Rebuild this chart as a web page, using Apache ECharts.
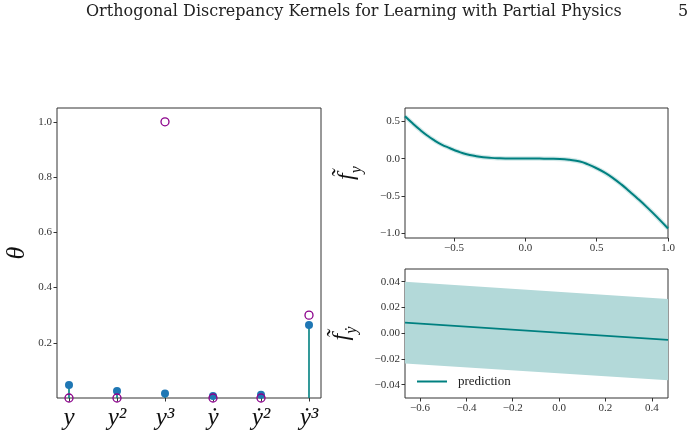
<!DOCTYPE html>
<html>
<head>
<meta charset="utf-8">
<script src="https://cdn.jsdelivr.net/npm/echarts@6/dist/echarts.min.js"></script>
<style>
html, body { margin: 0; padding: 0; background: #fff; }
#chart { width: 692px; height: 437px; }
</style>
</head>
<body>
<div id="chart"></div>
<script>
// left panel: estimated vs true coefficients
const termLabels = ['y', 'y²', 'y³', 'ẏ', 'ẏ²', 'ẏ³']
const thetaEst = [0.047, 0.025, 0.016, 0.007, 0.012, 0.264]
const thetaTrue = [0, 0, 1.0, 0, 0, 0.3]
const thetaTicks = [0.2, 0.4, 0.6, 0.8, 1.0]

// top right: learned f_y
const fyX = [-0.843, -0.79, -0.738, -0.69, -0.645, -0.59, -0.528, -0.47, -0.411, -0.35, -0.295, -0.24, -0.178, -0.1, 0, 0.1, 0.18, 0.243, 0.31, 0.383, 0.44, 0.5, 0.56, 0.617, 0.675, 0.733, 0.79, 0.85, 0.925, 1.0]
const fyMean = [0.57, 0.475, 0.388, 0.315, 0.255, 0.193, 0.14, 0.095, 0.059, 0.035, 0.019, 0.01, 0.005, 0.002, 0.001, 0.0, -0.001, -0.004, -0.016, -0.04, -0.078, -0.13, -0.193, -0.265, -0.35, -0.446, -0.542, -0.649, -0.79, -0.94]
const fyTicksX = [-0.5, 0, 0.5, 1.0]
const fyTicksY = [-1.0, -0.5, 0, 0.5]

// bottom right: learned f_ydot with band
const fdX = [-0.665, 0.47]
const fdMean = [0.0082, -0.0052]
const fdUpper = [0.040, 0.0266]
const fdLower = [-0.0236, -0.0365]
const fdTicksX = [-0.6, -0.4, -0.2, 0, 0.2, 0.4]
const fdTicksY = [-0.04, -0.02, 0, 0.02, 0.04]

const TEAL = '#008080'
const SERIF = "'Liberation Serif', 'DejaVu Serif', serif"

const fmt = (v, d) => (v < -1e-9 ? '\u2212' : '') + Math.abs(v).toFixed(d)
const zip = (xs, ys) => xs.map((x, i) => [x, ys[i]])

// axis helper with fixed tick positions
const makeAxis = (idx, min, max, ticks, formatter, extra) => Object.assign({
  type: 'value',
  gridIndex: idx,
  min: min,
  max: max,
  splitLine: { show: false },
  axisLine: { show: false, onZero: false },
  axisTick: { show: true, customValues: ticks, length: 3.5, lineStyle: { color: '#333' } },
  axisLabel: {
    customValues: ticks,
    formatter: formatter,
    color: '#333',
    fontFamily: SERIF,
    fontSize: 11,
    margin: 5
  }
}, extra || {})

const gridBox = { show: true, borderColor: '#333', borderWidth: 1, containLabel: false, outerBoundsMode: 'none' }

const nameRich = {
  f: { fontFamily: SERIF, fontStyle: 'italic', fontSize: 24, verticalAlign: 'top', height: 25 },
  s: { fontFamily: SERIF, fontStyle: 'italic', fontSize: 16, verticalAlign: 'bottom', height: 20, lineHeight: 33 }
}

const chart = echarts.init(document.getElementById('chart'))

chart.setOption({
  animation: false,
  backgroundColor: '#fff',
  graphic: [
    {
      type: 'text', left: 86, top: 4,
      style: { text: 'Orthogonal Discrepancy Kernels for Learning with Partial Physics', font: "16px 'DejaVu Serif', serif", fill: '#222' }
    },
    {
      type: 'text', left: 678, top: 4,
      style: { text: '5', font: "16px 'DejaVu Serif', serif", fill: '#222' }
    }
  ],
  grid: [
    Object.assign({ left: 57, top: 108, width: 264, height: 290 }, gridBox),
    Object.assign({ left: 405, top: 108, width: 263, height: 130 }, gridBox),
    Object.assign({ left: 405, top: 269, width: 263, height: 129 }, gridBox)
  ],
  xAxis: [
    makeAxis(0, -0.25, 5.25, [0, 1, 2, 3, 4, 5], v => termLabels[Math.round(v)], {
      axisLabel: {
        customValues: [0, 1, 2, 3, 4, 5],
        formatter: v => termLabels[Math.round(v)],
        color: '#111',
        fontFamily: SERIF,
        fontStyle: 'italic',
        fontSize: 25,
        margin: 8
      }
    }),
    makeAxis(1, -0.843, 1.0, fyTicksX, v => fmt(v, 1)),
    makeAxis(2, -0.665, 0.47, fdTicksX, v => fmt(v, 1))
  ],
  yAxis: [
    makeAxis(0, 0, 1.05, thetaTicks, v => fmt(v, 1), {
      name: 'θ',
      nameLocation: 'middle',
      nameRotate: 90,
      nameGap: 27,
      nameTextStyle: { fontFamily: SERIF, fontStyle: 'italic', fontSize: 26, color: '#111' }
    }),
    makeAxis(1, -1.068, 0.681, fyTicksY, v => fmt(v, 1), {
      name: '{f|f\u0303}{s|y}',
      nameLocation: 'middle',
      nameRotate: 90,
      nameGap: 38,
      nameTextStyle: { color: '#111', rich: nameRich }
    }),
    makeAxis(2, -0.0503, 0.0498, fdTicksY, v => fmt(v, 2), {
      name: '{f|f\u0303}{s|ẏ}',
      nameLocation: 'middle',
      nameRotate: 90,
      nameGap: 43,
      nameTextStyle: { color: '#111', rich: nameRich }
    })
  ],
  legend: {
    left: 412,
    top: 370,
    data: [{ name: 'prediction', icon: 'rect' }],
    itemWidth: 30,
    itemHeight: 2,
    textStyle: { fontFamily: SERIF, fontSize: 13, color: '#222', padding: [0, 0, 0, 6] }
  },
  series: [
    // stems from zero up to the estimate
    {
      type: 'custom',
      xAxisIndex: 0,
      yAxisIndex: 0,
      z: 2,
      data: thetaEst.map((v, i) => [i, v]),
      renderItem: (params, api) => {
        const p0 = api.coord([api.value(0), 0])
        const p1 = api.coord([api.value(0), api.value(1)])
        return {
          type: 'line',
          shape: { x1: p0[0], y1: p0[1], x2: p1[0], y2: p1[1] },
          style: { stroke: TEAL, lineWidth: 1.6 }
        }
      }
    },
    {
      type: 'scatter',
      xAxisIndex: 0,
      yAxisIndex: 0,
      z: 3,
      symbolSize: 8,
      itemStyle: { color: '#1f77b4', opacity: 1 },
      data: thetaEst.map((v, i) => [i, v])
    },
    {
      type: 'scatter',
      xAxisIndex: 0,
      yAxisIndex: 0,
      z: 4,
      symbolSize: 8,
      itemStyle: { color: 'rgba(255,255,255,0)', borderColor: '#8b008b', borderWidth: 1.3, opacity: 1 },
      data: thetaTrue.map((v, i) => [i, v])
    },
    // top right curve with faint uncertainty halo
    {
      type: 'line',
      xAxisIndex: 1,
      yAxisIndex: 1,
      smooth: true,
      symbol: 'none',
      lineStyle: { color: 'rgba(0,128,128,0.18)', width: 4.5 },
      data: zip(fyX, fyMean)
    },
    {
      type: 'line',
      xAxisIndex: 1,
      yAxisIndex: 1,
      smooth: true,
      symbol: 'none',
      lineStyle: { color: TEAL, width: 2 },
      data: zip(fyX, fyMean)
    },
    // bottom right band, polygon built through the axis scales
    {
      type: 'custom',
      xAxisIndex: 2,
      yAxisIndex: 2,
      z: 1,
      data: [0],
      renderItem: (params, api) => {
        const top = fdX.map((x, i) => api.coord([x, fdUpper[i]]))
        const bot = fdX.map((x, i) => api.coord([x, fdLower[i]])).reverse()
        return {
          type: 'polygon',
          shape: { points: top.concat(bot) },
          style: { fill: '#b3d9d9' }
        }
      }
    },
    {
      name: 'prediction',
      type: 'line',
      xAxisIndex: 2,
      yAxisIndex: 2,
      z: 3,
      symbol: 'none',
      lineStyle: { color: TEAL, width: 1.6 },
      itemStyle: { color: TEAL },
      data: zip(fdX, fdMean)
    }
  ]
})
</script>
</body>
</html>
